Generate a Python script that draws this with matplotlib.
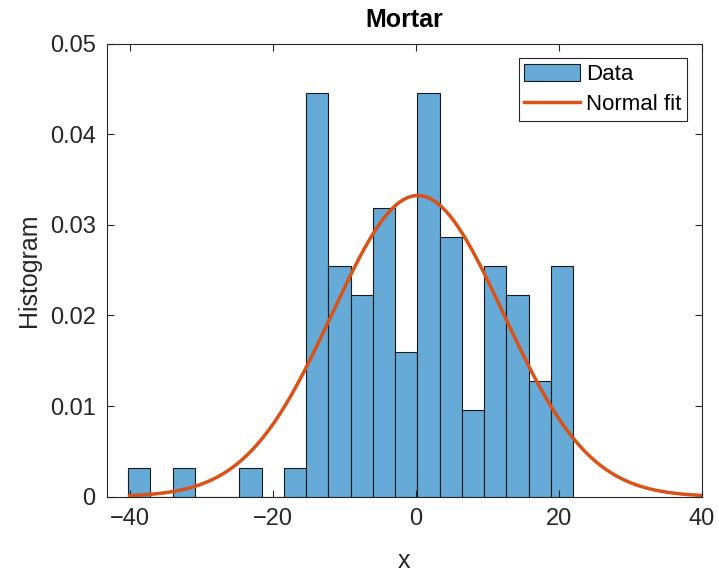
import numpy as np
import matplotlib
matplotlib.use('Agg')
import matplotlib.pyplot as plt

plt.rcParams['font.family'] = ['Liberation Sans', 'DejaVu Sans']

# histogram of the residuals (20 bins, counts)
bin_edges = np.linspace(-40.2, 22.0, 21)
bin_counts = [1, 0, 1, 0, 0, 1, 0, 1, 14, 8, 7, 10, 5, 14, 9, 3, 8, 7, 4, 8]

# normal fit parameters
fit_mu = 0.3
fit_sigma = 12.0

bin_centers = 0.5 * (bin_edges[:-1] + bin_edges[1:])

fig = plt.figure(figsize=(7.19, 5.75), dpi=100)
ax = fig.add_axes([0.1484, 0.1362, 0.976 - 0.1484, 0.924 - 0.1362])

ax.hist(bin_centers, bins=bin_edges, weights=bin_counts, density=True,
        facecolor='#66aad7', edgecolor='#1a1a1a', linewidth=0.8, label='Data')

xs = np.linspace(-40, 40, 400)
pdf = np.exp(-0.5 * ((xs - fit_mu) / fit_sigma) ** 2) / (fit_sigma * np.sqrt(2 * np.pi))
ax.plot(xs, pdf, color='#d95319', linewidth=2.5, label='Normal fit')

ax.set_xlim(-43.2, 40)
ax.set_ylim(0, 0.05)
ax.set_xticks([-40, -20, 0, 20, 40])
ax.set_yticks([0, 0.01, 0.02, 0.03, 0.04, 0.05])
ax.set_yticklabels(['0', '0.01', '0.02', '0.03', '0.04', '0.05'])
ax.tick_params(direction='in', top=True, right=True, labelsize=17, length=5,
               width=0.8, colors='#262626', pad=8)
for s in ax.spines.values():
    s.set_color('#262626')
    s.set_linewidth(0.8)

ax.set_xlabel('x', fontsize=18, color='#262626', labelpad=14)
ax.set_ylabel('Histogram', fontsize=18, color='#262626', labelpad=6)
ax.set_title('Mortar', fontsize=18, fontweight='bold', pad=12)

leg = ax.legend(loc='upper right', fontsize=16, fancybox=False, framealpha=1,
                edgecolor='#262626', handlelength=2.5, handleheight=0.8,
                borderpad=0.25, labelspacing=0.4, handletextpad=0.3,
                borderaxespad=0.65)
leg.get_frame().set_linewidth(0.8)

fig.savefig('out.png', dpi=100)
